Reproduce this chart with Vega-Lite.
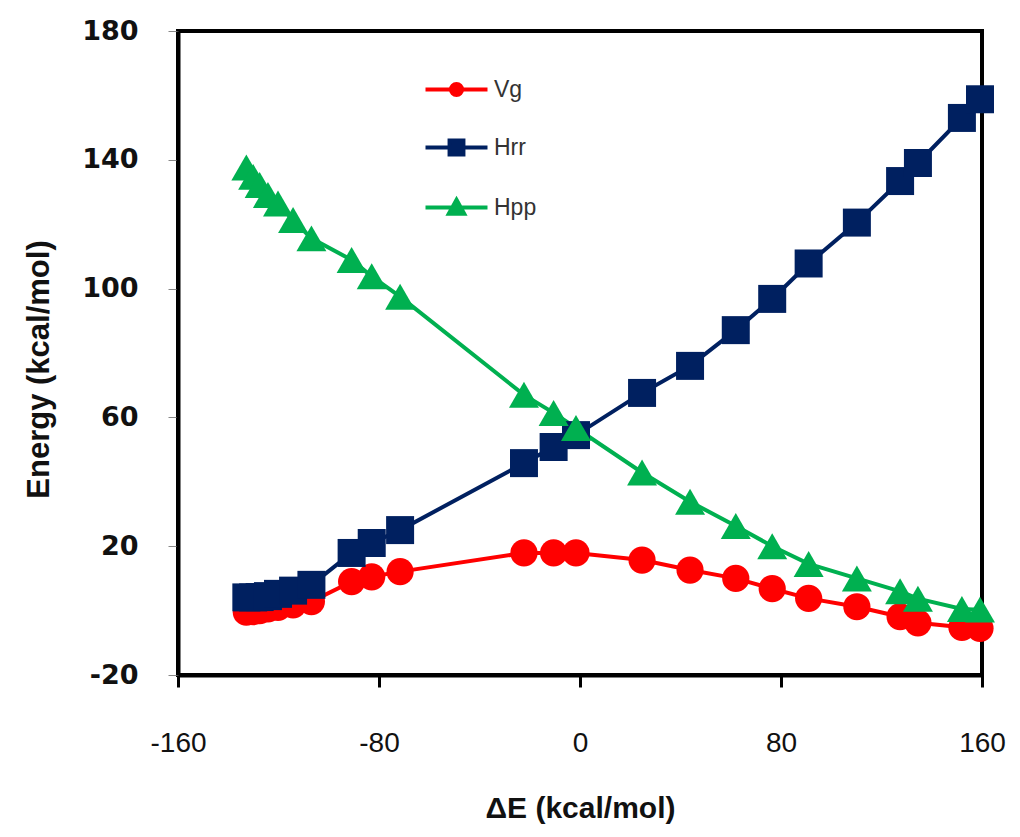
{
  "$schema": "https://vega.github.io/schema/vega-lite/v6.json",
  "width": 804,
  "height": 644,
  "autosize": {"type": "none"},
  "padding": {"left": 178, "top": 31, "right": 38, "bottom": 162},
  "background": "white",
  "config": {
    "view": {"stroke": "black", "strokeWidth": 4},
    "axis": {"grid": false}
  },
  "data": {
    "values": [
      {"series": "Vg", "x": -132.8, "y": -0.5},
      {"series": "Vg", "x": -130.1, "y": -0.3},
      {"series": "Vg", "x": -127.5, "y": 0.0},
      {"series": "Vg", "x": -124.2, "y": 0.5},
      {"series": "Vg", "x": -120.2, "y": 1.0},
      {"series": "Vg", "x": -114.2, "y": 1.8},
      {"series": "Vg", "x": -106.9, "y": 2.8},
      {"series": "Vg", "x": -90.9, "y": 9.0},
      {"series": "Vg", "x": -82.9, "y": 10.5},
      {"series": "Vg", "x": -71.6, "y": 12.1},
      {"series": "Vg", "x": -22.3, "y": 17.9},
      {"series": "Vg", "x": -10.5, "y": 17.9},
      {"series": "Vg", "x": -1.6, "y": 17.9},
      {"series": "Vg", "x": 24.7, "y": 15.7},
      {"series": "Vg", "x": 43.8, "y": 12.6},
      {"series": "Vg", "x": 62.0, "y": 10.0},
      {"series": "Vg", "x": 76.5, "y": 6.8},
      {"series": "Vg", "x": 91.0, "y": 3.8},
      {"series": "Vg", "x": 110.2, "y": 1.2},
      {"series": "Vg", "x": 127.4, "y": -1.9},
      {"series": "Vg", "x": 134.5, "y": -3.8},
      {"series": "Vg", "x": 152.0, "y": -5.2},
      {"series": "Vg", "x": 159.2, "y": -5.5},
      {"series": "Hrr", "x": -132.8, "y": 4.1},
      {"series": "Hrr", "x": -130.1, "y": 4.1},
      {"series": "Hrr", "x": -127.5, "y": 4.2},
      {"series": "Hrr", "x": -124.2, "y": 4.5},
      {"series": "Hrr", "x": -120.2, "y": 5.2},
      {"series": "Hrr", "x": -114.2, "y": 6.2},
      {"series": "Hrr", "x": -106.9, "y": 8.0},
      {"series": "Hrr", "x": -90.9, "y": 17.9},
      {"series": "Hrr", "x": -82.9, "y": 21.0},
      {"series": "Hrr", "x": -71.6, "y": 25.0},
      {"series": "Hrr", "x": -22.3, "y": 45.8},
      {"series": "Hrr", "x": -10.5, "y": 50.8},
      {"series": "Hrr", "x": -1.6, "y": 54.5},
      {"series": "Hrr", "x": 24.7, "y": 67.6},
      {"series": "Hrr", "x": 43.8, "y": 76.0},
      {"series": "Hrr", "x": 62.0, "y": 87.1},
      {"series": "Hrr", "x": 76.5, "y": 96.8},
      {"series": "Hrr", "x": 91.0, "y": 107.8},
      {"series": "Hrr", "x": 110.2, "y": 120.5},
      {"series": "Hrr", "x": 127.4, "y": 133.4},
      {"series": "Hrr", "x": 134.5, "y": 139.0},
      {"series": "Hrr", "x": 152.0, "y": 153.0},
      {"series": "Hrr", "x": 159.2, "y": 158.8},
      {"series": "Hpp", "x": -132.8, "y": 137.6},
      {"series": "Hpp", "x": -130.1, "y": 134.7},
      {"series": "Hpp", "x": -127.5, "y": 132.2},
      {"series": "Hpp", "x": -124.2, "y": 129.1},
      {"series": "Hpp", "x": -120.2, "y": 126.4},
      {"series": "Hpp", "x": -114.2, "y": 121.3},
      {"series": "Hpp", "x": -106.9, "y": 115.6},
      {"series": "Hpp", "x": -90.9, "y": 108.9},
      {"series": "Hpp", "x": -82.9, "y": 103.8},
      {"series": "Hpp", "x": -71.6, "y": 97.5},
      {"series": "Hpp", "x": -22.3, "y": 67.0},
      {"series": "Hpp", "x": -10.5, "y": 61.4},
      {"series": "Hpp", "x": -1.6, "y": 56.7},
      {"series": "Hpp", "x": 24.7, "y": 42.9},
      {"series": "Hpp", "x": 43.8, "y": 33.8},
      {"series": "Hpp", "x": 62.0, "y": 26.3},
      {"series": "Hpp", "x": 76.5, "y": 20.0},
      {"series": "Hpp", "x": 91.0, "y": 14.5},
      {"series": "Hpp", "x": 110.2, "y": 10.0},
      {"series": "Hpp", "x": 127.4, "y": 6.0},
      {"series": "Hpp", "x": 134.5, "y": 3.7},
      {"series": "Hpp", "x": 152.0, "y": 0.5},
      {"series": "Hpp", "x": 159.2, "y": 0.3}
    ]
  },
  "encoding": {
    "x": {
      "field": "x",
      "type": "quantitative",
      "scale": {"domain": [-160, 160], "nice": false, "zero": false},
      "axis": {
        "values": [-160, -80, 0, 80, 160],
        "labelExpr": "'' + datum.value",
        "title": "ΔE (kcal/mol)",
        "titleFont": "Liberation Sans",
        "titleFontSize": 30,
        "titleFontWeight": "bold",
        "titleColor": "#111111",
        "titlePadding": 36,
        "labelFont": "Liberation Sans",
        "labelFontSize": 28,
        "labelColor": "#111111",
        "labelFlush": false,
        "labelOverlap": false,
        "labelPadding": 42,
        "tickSize": 12,
        "tickWidth": 3,
        "tickColor": "black",
        "domainColor": "black",
        "domainWidth": 4
      }
    },
    "y": {
      "field": "y",
      "type": "quantitative",
      "scale": {"domain": [-20, 180], "nice": false, "zero": false},
      "axis": {
        "values": [-20, 20, 60, 100, 140, 180],
        "labelExpr": "'' + datum.value",
        "title": "Energy (kcal/mol)",
        "titleFont": "Liberation Sans",
        "titleFontSize": 31,
        "titleFontWeight": "bold",
        "titleColor": "#111111",
        "titlePadding": 26,
        "titleY": 338,
        "labelFont": "DejaVu Sans",
        "labelFontSize": 27,
        "labelFontWeight": "bold",
        "labelColor": "#111111",
        "labelFlush": false,
        "labelOverlap": false,
        "labelPadding": 30,
        "tickSize": 10,
        "tickWidth": 1,
        "tickColor": "#888888",
        "domainColor": "black",
        "domainWidth": 4
      }
    },
    "color": {
      "field": "series",
      "type": "nominal",
      "sort": ["Vg", "Hrr", "Hpp"],
      "scale": {"domain": ["Vg", "Hrr", "Hpp"], "range": ["#FF0000", "#002060", "#00B050"]},
      "legend": {
        "orient": "none",
        "legendX": 264,
        "legendY": 44,
        "title": null,
        "padding": 0,
        "symbolSize": 615,
        "symbolStrokeWidth": 4,
        "rowPadding": 28,
        "labelOffset": 23,
        "labelFont": "Liberation Sans",
        "labelFontSize": 23,
        "labelColor": "#333333",
        "encode": {
          "symbols": {
            "update": {
              "shape": {"signal": "datum.value === 'Vg' ? 'M-2.5,0L2.5,0M-0.45,0A0.45,0.45,0,1,1,0.45,0A0.45,0.45,0,1,1,-0.45,0Z' : datum.value === 'Hrr' ? 'M-2.5,0L2.5,0M-0.56,-0.56L0.56,-0.56L0.56,0.56L-0.56,0.56Z' : 'M-2.5,0L2.5,0M0,-0.62L0.62,0.5L-0.62,0.5Z'"},
              "fill": {"signal": "scale('color', datum.value)"},
              "stroke": {"signal": "scale('color', datum.value)"},
              "size": {"value": 615},
              "strokeWidth": {"value": 4},
              "opacity": {"value": 1},
              "fillOpacity": {"value": 1}
            }
          }
        }
      }
    }
  },
  "layer": [
    {
      "mark": {"type": "line", "strokeWidth": 4},
      "encoding": {"detail": {"field": "series"}}
    },
    {
      "transform": [{"filter": "datum.series === 'Vg'"}],
      "mark": {"type": "point", "filled": true, "opacity": 1, "shape": "circle", "size": 740}
    },
    {
      "transform": [{"filter": "datum.series === 'Hrr'"}],
      "mark": {"type": "point", "filled": true, "opacity": 1, "shape": "square", "size": 784}
    },
    {
      "transform": [{"filter": "datum.series === 'Hpp'"}],
      "mark": {"type": "point", "filled": true, "opacity": 1, "shape": "triangle-up", "size": 900}
    }
  ]
}
